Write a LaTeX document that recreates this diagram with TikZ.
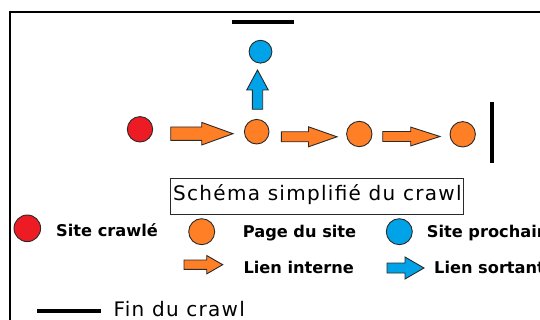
\documentclass[tikz,border=0pt]{standalone}
\usepackage{fontspec}
\setmainfont{DejaVu Sans}
\newfontfamily\titlefont[LetterSpace=6.5]{DejaVu Sans}
\definecolor{cred}{HTML}{ED1C24}
\definecolor{corange}{HTML}{FF7F27}
\definecolor{cblue}{HTML}{00A2E8}
\definecolor{edge}{HTML}{2A2A2A}
\newcommand{\blockarrowh}[7]{% fill, x0, xbase, xtip, yc, shaft half, head half
  \filldraw[fill=#1, draw=edge, line width=0.9pt, line join=miter]
    (#2,#5-#6) -- (#3,#5-#6) -- (#3,#5-#7) -- (#4,#5) -- (#3,#5+#7) -- (#3,#5+#6) -- (#2,#5+#6) -- cycle;}
\tikzset{
  disc/.style={circle, draw=edge, line width=0.9pt, inner sep=0pt, minimum size=#1},
  endbar/.style={line width=3.6pt, black},
  legtext/.style={anchor=base west, inner sep=0pt, font=\fontsize{16.2}{19}\selectfont\bfseries},
  bigtext/.style={anchor=base west, inner sep=0pt, font=\fontsize{20}{24}\selectfont\titlefont},
}
\begin{document}
\begin{tikzpicture}[x=1pt,y=-1pt]
\useasboundingbox (0,0) rectangle (540,320);
% frame
\draw[line width=2.4pt, black] (10,321) -- (10,12.3) -- (541,12.3);
% end-of-crawl bars
\draw[endbar] (231.7,22.3) -- (294.3,22.3);
\draw[endbar] (491.7,101.7) -- (491.7,162.7);
% main chain
\node[disc=25.4, fill=cred] (crawled) at (140,129.3) {};
\node[disc=24.6, fill=corange] (p1) at (256.7,131.7) {};
\node[disc=25.4, fill=corange] (p2) at (359.3,134) {};
\node[disc=25.4, fill=corange] (p3) at (462.7,134.3) {};
\node[disc=22.8, fill=cblue] (next) at (260.5,51.7) {};
\blockarrowh{corange}{170.7}{201.7}{233}{133.7}{6.7}{11.3}
\blockarrowh{corange}{281.3}{308.5}{337}{136.8}{5}{10}
\blockarrowh{corange}{382.7}{410.7}{440}{136.5}{5}{9.4}
\filldraw[fill=cblue, draw=edge, line width=0.9pt, line join=miter]
  (252.3,109.3) -- (252.3,90) -- (246.7,90) -- (257.5,70) -- (268.3,90) -- (262.7,90) -- (262.7,109.3) -- cycle;
% title
\node[draw=edge, line width=1pt, minimum width=292.3pt, minimum height=36pt, inner sep=0pt] (titlebox) at (316.9,196.3) {};
\node[bigtext] (title) at (173,200.7) {Schéma simplifié du crawl};
% legend
\node[disc=26.6, fill=cred] (lred) at (27.3,228.3) {};
\node[legtext] (tred) at (56,236.7) {Site crawlé};
\node[disc=26, fill=corange] (lorange) at (201.7,231.7) {};
\node[legtext] (torange) at (242.7,237.8) {Page du site};
\node[disc=26, fill=cblue] (lblue) at (399.3,231.7) {};
\node[legtext] (tblue) at (426.7,237.8) {Site prochain};
\blockarrowh{corange}{184}{206.7}{222.7}{264.7}{4.7}{9.2}
\node[legtext] (tint) at (243.3,273.3) {Lien interne};
\blockarrowh{cblue}{387}{405}{424}{268}{5}{11}
\node[legtext] (tout) at (434,273.3) {Lien sortant};
\draw[endbar] (37.3,310.7) -- (100.7,310.7);
\node[bigtext] (tend) at (113.3,316.7) {Fin du crawl};
\end{tikzpicture}
\end{document}
